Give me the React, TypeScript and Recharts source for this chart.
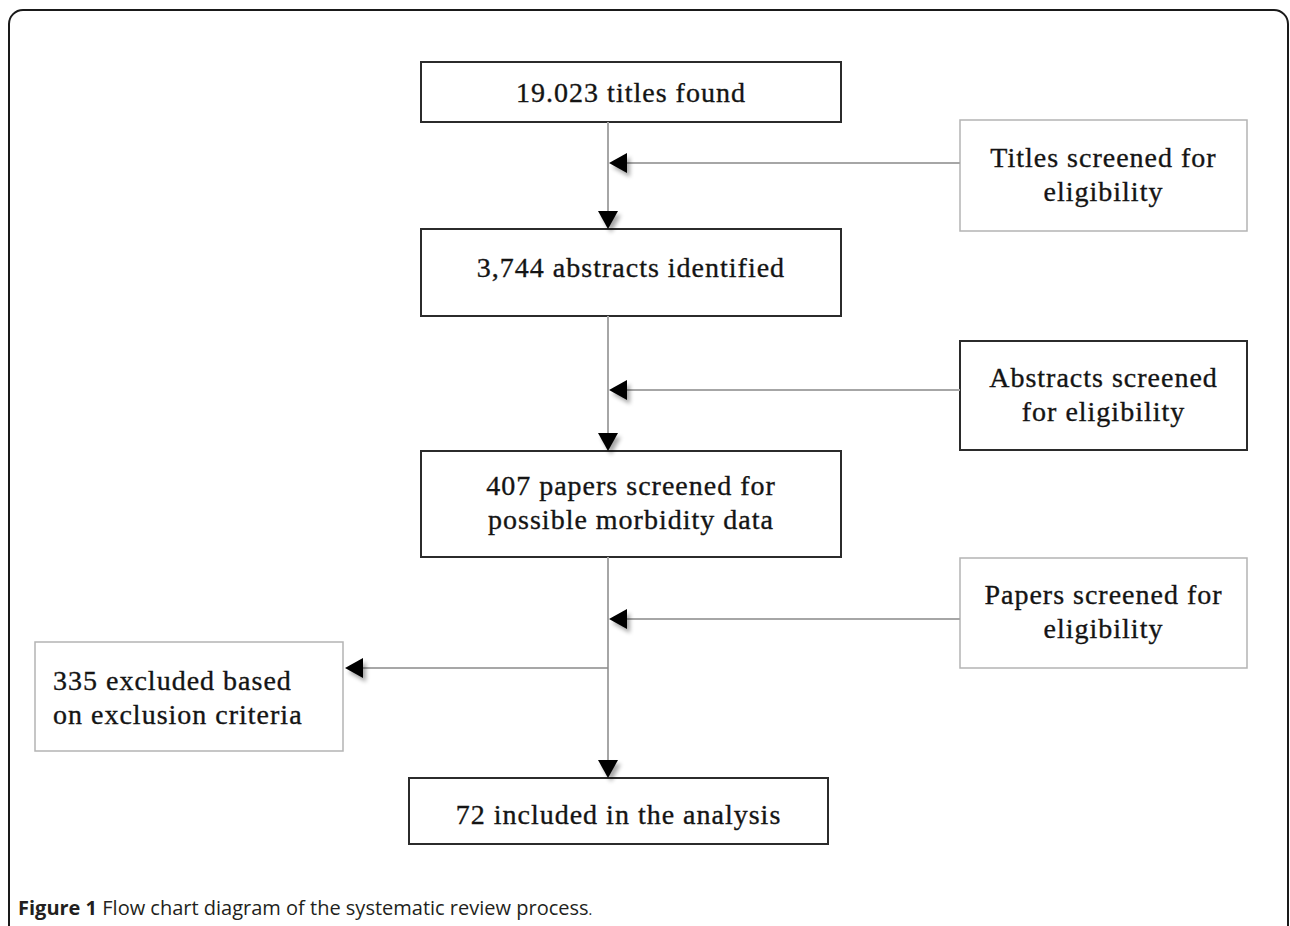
import React from "react";
import {
  ComposedChart,
  ReferenceArea,
  ReferenceLine,
  Scatter,
  XAxis,
  YAxis,
} from "recharts";

// Canvas in page pixels: the flow chart uses the chart's own scales as a drawing grid.
const W = 1290;
const H = 926;

const STEP_LABELS = [
  ["19.023 titles found"],
  ["3,744 abstracts identified"],
  ["407 papers screened for", "possible morbidity data"],
  ["72 included in the analysis"],
];
const STEP_X: [number, number][] = [
  [421, 841],
  [421, 841],
  [421, 841],
  [409, 828],
];
const STEP_Y: [number, number][] = [
  [62, 122],
  [229, 316],
  [451, 557],
  [778, 844],
];
const STEP_TEXT_DY = [0, -6, -2, 3];

const SIDE_LABELS = [
  ["Titles screened for", "eligibility"],
  ["Abstracts screened", "for eligibility"],
  ["Papers screened for", "eligibility"],
];
const SIDE_X: [number, number] = [960, 1247];
const SIDE_Y: [number, number][] = [
  [120, 231],
  [341, 450],
  [558, 668],
];
const SIDE_STRONG = [false, true, false];
const SIDE_ARROW_Y = [163, 390, 619];

const EXCLUDED_LABEL = ["335 excluded based", "on exclusion criteria"];
const EXCLUDED_X: [number, number] = [35, 343];
const EXCLUDED_Y: [number, number] = [642, 751];
const EXCLUDED_ARROW_Y = 668;

const FLOW_X = 608;

const DARK = "#2b2b2b";
const LIGHT = "#b4b4b4";
const LINE = "#a6a6a6";
const FONT = "'Liberation Serif', serif";

type Head = { x: number; y: number; dir: "down" | "left" };

const arrowHeads: Head[] = [
  ...STEP_Y.slice(1).map((s) => ({ x: FLOW_X, y: s[0], dir: "down" as const })),
  ...SIDE_ARROW_Y.map((y) => ({ x: FLOW_X + 1, y, dir: "left" as const })),
  { x: EXCLUDED_X[1] + 2, y: EXCLUDED_ARROW_Y, dir: "left" },
];

function ArrowHead(props: any) {
  const { cx, cy, payload } = props;
  const pts =
    payload.dir === "down"
      ? `${cx - 10},${cy - 18} ${cx + 10},${cy - 18} ${cx},${cy}`
      : `${cx},${cy} ${cx + 18},${cy - 10} ${cx + 18},${cy + 10}`;
  return (
    <g>
      <defs>
        <filter id="headShadow" x="-50%" y="-50%" width="200%" height="200%">
          <feGaussianBlur stdDeviation="2" />
        </filter>
      </defs>
      <polygon points={pts} fill="#000" opacity={0.35} transform="translate(3,4)" filter="url(#headShadow)" />
      <polygon points={pts} fill="#000" />
    </g>
  );
}

function boxLabel(lines: string[], align: "middle" | "start" = "middle", dy = 0) {
  return (props: any) => {
    const vb = props.viewBox;
    const lh = 34;
    const cy = vb.y + vb.height / 2 - ((lines.length - 1) * lh) / 2 + dy;
    const x = align === "middle" ? vb.x + vb.width / 2 : vb.x + 18;
    return (
      <text
        x={x}
        y={cy}
        textAnchor={align}
        dominantBaseline="central"
        fontFamily={FONT}
        fontSize={28}
        letterSpacing={1}
        fill="#141414"
        stroke="#141414"
        strokeWidth={0.35}
      >
        {lines.map((l, i) => (
          <tspan key={i} x={x} y={cy + i * lh}>
            {l}
          </tspan>
        ))}
      </text>
    );
  };
}

function FrameShape(props: any) {
  const { x, y, width, height } = props;
  return <rect x={x} y={y} width={width} height={height} rx={14} fill="none" stroke="#1a1a1a" strokeWidth={2} />;
}

export default function App() {
  return (
    <div style={{ position: "absolute", left: 0, top: 0, width: W, height: H, background: "#fff", overflow: "hidden" }}>
      <ComposedChart width={W} height={H} margin={{ top: 0, right: 0, bottom: 0, left: 0 }} data={arrowHeads}>
        <XAxis type="number" dataKey="x" domain={[0, W]} hide allowDataOverflow />
        <YAxis type="number" dataKey="y" domain={[0, H]} reversed hide allowDataOverflow />

        <ReferenceArea x1={9} x2={1288} y1={10} y2={H + 40} ifOverflow="visible" shape={FrameShape} />

        {/* main vertical flow */}
        {STEP_Y.slice(0, -1).map((s, i) => (
          <ReferenceLine
            key={`v${i}`}
            segment={[
              { x: FLOW_X, y: s[1] },
              { x: FLOW_X, y: STEP_Y[i + 1][0] - 16 },
            ]}
            stroke={LINE}
            strokeWidth={2}
          />
        ))}

        {/* side inputs */}
        {SIDE_ARROW_Y.map((y, i) => (
          <ReferenceLine
            key={`h${i}`}
            segment={[
              { x: FLOW_X + 16, y },
              { x: SIDE_X[0], y },
            ]}
            stroke={LINE}
            strokeWidth={2}
          />
        ))}

        <ReferenceLine
          segment={[
            { x: EXCLUDED_X[1] + 16, y: EXCLUDED_ARROW_Y },
            { x: FLOW_X, y: EXCLUDED_ARROW_Y },
          ]}
          stroke="#8a8a8a"
          strokeWidth={1.5}
        />

        {STEP_LABELS.map((lines, i) => (
          <ReferenceArea
            key={`s${i}`}
            x1={STEP_X[i][0]}
            x2={STEP_X[i][1]}
            y1={STEP_Y[i][0]}
            y2={STEP_Y[i][1]}
            fill="#fff"
            fillOpacity={1}
            stroke={DARK}
            strokeWidth={2}
            label={boxLabel(lines, "middle", STEP_TEXT_DY[i])}
          />
        ))}

        {SIDE_LABELS.map((lines, i) => (
          <ReferenceArea
            key={`d${i}`}
            x1={SIDE_X[0]}
            x2={SIDE_X[1]}
            y1={SIDE_Y[i][0]}
            y2={SIDE_Y[i][1]}
            fill="#fff"
            fillOpacity={1}
            stroke={SIDE_STRONG[i] ? DARK : LIGHT}
            strokeWidth={SIDE_STRONG[i] ? 2 : 1.5}
            label={boxLabel(lines, "middle", -2)}
          />
        ))}

        <ReferenceArea
          x1={EXCLUDED_X[0]}
          x2={EXCLUDED_X[1]}
          y1={EXCLUDED_Y[0]}
          y2={EXCLUDED_Y[1]}
          fill="#fff"
          fillOpacity={1}
          stroke={LIGHT}
          strokeWidth={1.5}
          label={boxLabel(EXCLUDED_LABEL, "start")}
        />

        <Scatter dataKey="y" data={arrowHeads} shape={ArrowHead} isAnimationActive={false} />
      </ComposedChart>
      <div
        style={{
          position: "absolute",
          left: 18,
          top: 895,
          fontFamily: "'Open Sans', sans-serif",
          fontSize: 20,
          lineHeight: "26px",
          color: "#231f20",
          whiteSpace: "nowrap",
        }}
      >
        <b>Figure 1</b> Flow chart diagram of the systematic review process
        <span style={{ fontSize: 14 }}>.</span>
      </div>
    </div>
  );
}
